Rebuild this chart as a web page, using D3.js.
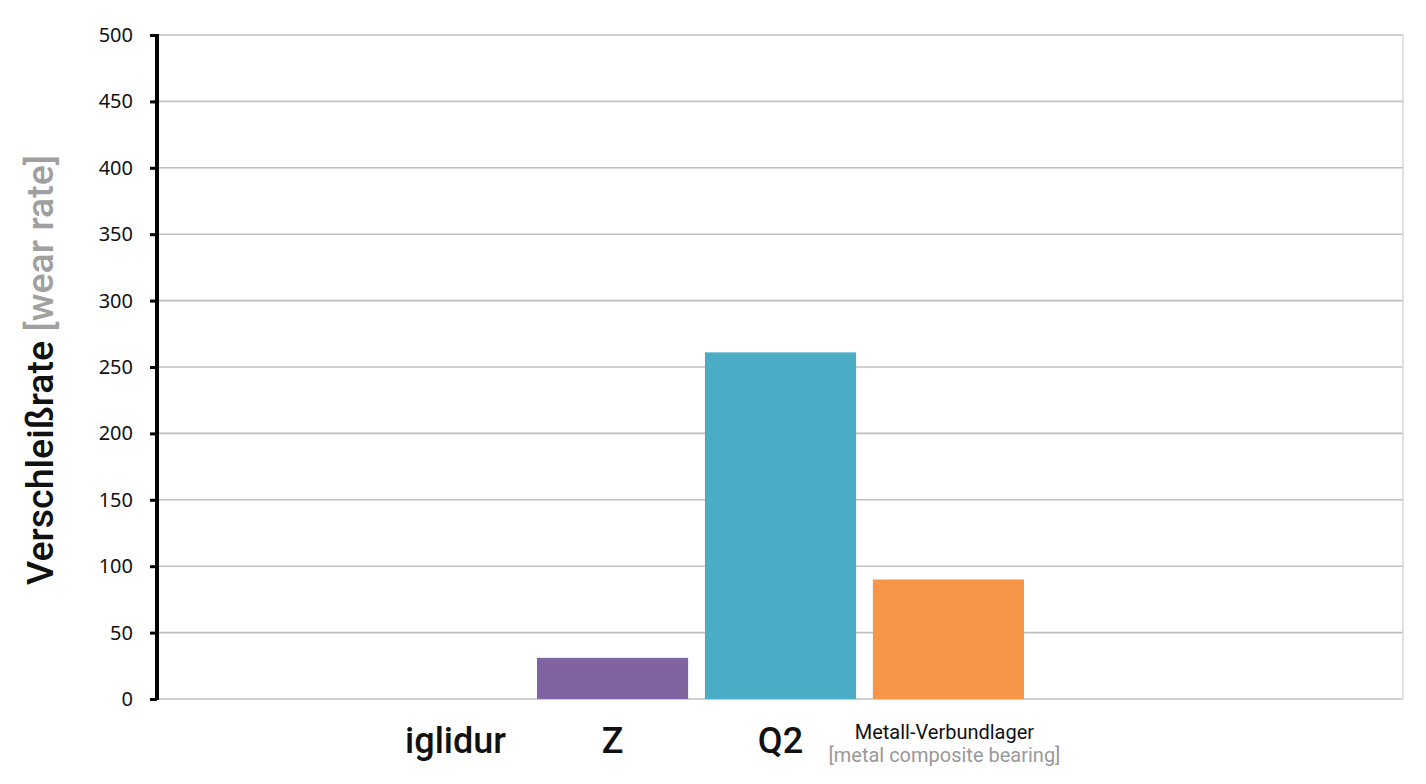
<!DOCTYPE html>
<html>
<head>
<meta charset="utf-8">
<script src="https://cdn.jsdelivr.net/npm/d3@7"></script>
<style>
  body { margin: 0; background: #fff; }
  svg { display: block; }
</style>
</head>
<body>
<svg></svg>
<script>
var screen = {width: 1426, height: 784};
var margins = {top: 35, right: 23, bottom: 85, left: 157};

// data
var categories = ["Z", "Q2", "Metall-Verbundlager"];
var subLabels = ["", "", "[metal composite bearing]"];
var wearRate = [31, 261, 90];
var barColors = ["#8064a2", "#4bacc6", "#f79646"];
var yTicks = [0, 50, 100, 150, 200, 250, 300, 350, 400, 450, 500];
var prefixLabel = "iglidur";
var yTitle = "Verschleißrate";
var yTitleSub = "[wear rate]";

var width = screen.width - margins.left - margins.right;
var height = screen.height - margins.top - margins.bottom;

var svg = d3.select("svg")
    .attr("width", screen.width)
    .attr("height", screen.height);

var g = svg.append("g")
    .attr("transform", "translate(" + margins.left + "," + margins.top + ")");

var yScale = d3.scaleLinear().domain([0, 500]).range([height, 0]);
// bars sit in the middle of the plot, leaving room on the left for the "iglidur" label
var xScale = d3.scaleBand().domain(categories).range([380, 867]).paddingInner(0.1).paddingOuter(0);

// gridlines
g.append("g")
    .selectAll("line")
    .data(yTicks)
    .enter()
    .append("line")
    .attr("x1", 0)
    .attr("x2", width)
    .attr("y1", function(d){ return yScale(d); })
    .attr("y2", function(d){ return yScale(d); })
    .attr("stroke", "#bfbfbf")
    .attr("stroke-width", 1.6);

// right border
g.append("line")
    .attr("x1", width).attr("x2", width)
    .attr("y1", 0).attr("y2", height)
    .attr("stroke", "#d9d9d9")
    .attr("stroke-width", 1.6);

// bars
var bars = categories.map(function(c, i){ return {name: c, value: wearRate[i], color: barColors[i]}; });

g.selectAll("rect.bar")
    .data(bars)
    .enter()
    .append("rect")
    .attr("class", "bar")
    .attr("x", function(d){ return xScale(d.name); })
    .attr("y", function(d){ return yScale(d.value); })
    .attr("width", xScale.bandwidth())
    .attr("height", function(d){ return yScale(0) - yScale(d.value); })
    .attr("fill", function(d){ return d.color; });

// y axis
var yAxis = d3.axisLeft(yScale).tickValues(yTicks).tickSize(7).tickPadding(17);
var ya = g.append("g").call(yAxis);
ya.select(".domain").remove();
ya.selectAll(".tick line").attr("stroke", "#000").attr("stroke-width", 3);
ya.selectAll(".tick text")
    .attr("font-family", "'Noto Sans', 'Open Sans', sans-serif")
    .attr("font-size", 20)
    .attr("fill", "#111");

g.append("line")
    .attr("x1", 0).attr("x2", 0)
    .attr("y1", -1).attr("y2", height + 1)
    .attr("stroke", "#000")
    .attr("stroke-width", 4);

// category labels
var labels = g.append("g")
    .attr("font-family", "Roboto, sans-serif")
    .attr("text-anchor", "middle");

categories.forEach(function(c, i){
    var cx = xScale(c) + xScale.bandwidth() / 2;
    if (subLabels[i]) {
        labels.append("text")
            .attr("x", cx - 4)
            .attr("y", height + 40)
            .attr("font-size", 20)
            .attr("fill", "#111")
            .text(c);
        labels.append("text")
            .attr("x", cx - 4)
            .attr("y", height + 63)
            .attr("font-size", 20)
            .attr("fill", "#999")
            .text(subLabels[i]);
    } else {
        labels.append("text")
            .attr("x", cx)
            .attr("y", height + 54)
            .attr("font-size", 36)
            .attr("font-weight", 500)
            .attr("fill", "#111")
            .text(c);
    }
});

labels.append("text")
    .attr("x", xScale(categories[0]) + xScale.bandwidth() / 2 - 157)
    .attr("y", height + 54)
    .attr("font-size", 36)
    .attr("font-weight", 500)
    .attr("fill", "#111")
    .text(prefixLabel);

// y title
var title = svg.append("text")
    .attr("transform", "translate(53," + (margins.top + 335) + ") rotate(-90)")
    .attr("text-anchor", "middle")
    .attr("font-family", "Roboto, Arial, sans-serif")
    .attr("font-weight", 500)
    .attr("font-size", 37.5);
title.append("tspan").attr("fill", "#111").text(yTitle + " ");
title.append("tspan").attr("fill", "#a0a0a0").text(yTitleSub);
</script>
</body>
</html>
